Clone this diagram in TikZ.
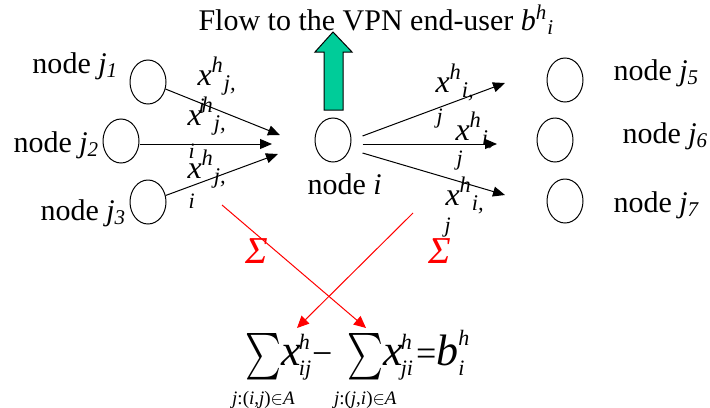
\documentclass[tikz,border=0pt]{standalone}
\usepackage{fontspec}
\setmainfont{Liberation Serif}
\usepackage{mathtools}
\usepackage{graphicx}
\usetikzlibrary{shapes.geometric,arrows.meta}
\definecolor{flowgreen}{RGB}{0,204,153}
\newcommand{\supit}[1]{\textsuperscript{\itshape #1}}
\newcommand{\subit}[1]{\textsubscript{\itshape #1}}
\newcommand{\tv}[1]{\mbox{\itshape #1}}
\newcommand{\smit}[1]{\mbox{\fontsize{11}{12}\selectfont\itshape #1}}
\newcommand{\narrowsum}[1]{\mathop{\raisebox{-1.5pt}{\scalebox{0.82}[1.12]{$\textstyle\sum$}}}\limits_{\mathclap{\mbox{\fontsize{9.5}{10}\selectfont #1}}}\mkern-3mu}
\newcommand{\eqsign}[1]{\mbox{\fontsize{18}{18}\selectfont #1}}

\begin{document}
\begin{tikzpicture}[x=0.5pt, y=-0.5pt, line width=0.5pt,
  every node/.style={font=\fontsize{15}{17}\selectfont, inner sep=0pt},
  vertex/.style={draw, ellipse, minimum width=18pt, minimum height=22pt},
  lbl/.style={anchor=base west},
  flowlbl/.style={anchor=base west, font=\fontsize{16}{18}\selectfont},
  wrap/.style={anchor=base west, font=\fontsize{11}{13}\selectfont\itshape},
  arr/.style={-{Triangle[length=6pt,width=5pt]}},
  sumarr/.style={red, -{Triangle[length=6pt,width=5.5pt]}}]
\useasboundingbox (0,0) rectangle (710,407);

% demand at node i leaves the network
\node[lbl] (title) at (198,30) {Flow to the VPN end-user \textit{b}\supit{h}\subit{i}};
\draw[fill=flowgreen] (324,110) -- (324,52) -- (315,52) -- (333,32) -- (352,52) -- (343,52) -- (343,110) -- cycle;

% the node and its neighbours
\node[vertex] (i) at (333,140) {};
\node[vertex] (j1) at (148,82) {};
\node[vertex] (j2) at (121,141) {};
\node[vertex] (j3) at (148,202) {};
\node[vertex] (j5) at (565,80) {};
\node[vertex] (j6) at (555,140) {};
\node[vertex] (j7) at (565,201) {};
\node[lbl] (li) at (307,194) {node \textit{i}};
\node[lbl] (l1) at (32,73) {node \textit{j}\subit{1}};
\node[lbl] (l2) at (13,152) {node \textit{j}\subit{2}};
\node[lbl] (l3) at (40,220) {node \textit{j}\subit{3}};
\node[lbl] (l5) at (613,80) {node \textit{j}\subit{5}};
\node[lbl] (l6) at (622,143) {node \textit{j}\subit{6}};
\node[lbl] (l7) at (613,212) {node \textit{j}\subit{7}};

% incoming flows (labels wrap: the last index drops to the next line)
\coordinate (in1) at (280,135);
\coordinate (in2) at (272,144);
\coordinate (in3) at (278,154);
\draw[arr] (j1) -- (in1);
\draw[arr] (j2.east |- in2) -- (in2);
\draw[arr] (j3) -- (in3);
\node[flowlbl] (x1) at (197,85) {\textit{x}\supit{h}\subit{j,}};
\node[wrap] (x1b) at (198,113) {i};
\node[flowlbl] (x2) at (187,125) {\textit{x}\supit{h}\subit{j,}};
\node[wrap] (x2b) at (188,158) {i};
\node[flowlbl] (x3) at (187,178) {\textit{x}\supit{h}\subit{j,}};
\node[wrap] (x3b) at (188,208) {i};

% outgoing flows
\coordinate (out5) at (505,83);
\coordinate (out6) at (497,144);
\coordinate (out7) at (505,195);
\draw[arr] ([shift={(11,-4)}]i.east) -- (out5);
\draw[arr] ([shift={(11,4)}]i.east) -- (out6);
\draw[arr] ([shift={(11,13)}]i.east) -- (out7);
\node[flowlbl] (x5) at (435,92) {\textit{x}\supit{h}\subit{i,}};
\node[wrap] (x5b) at (436,123) {j};
\node[flowlbl] (x6) at (455,140) {\textit{x}\supit{h}\subit{i,}};
\node[wrap] (x6b) at (456,165) {j};
\node[flowlbl] (x7) at (445,205) {\textit{x}\supit{h}\subit{i,}};
\node[wrap] (x7b) at (444,232) {j};

% summing both sides into the balance equation
\coordinate (r1) at (222,205);
\coordinate (t1) at (366,328);
\coordinate (r2) at (413,213);
\coordinate (t2) at (297,328);
\draw[sumarr] (r1) -- (t1);
\draw[sumarr] (r2) -- (t2);
\node[red, font=\fontsize{19}{19}\selectfont\itshape] (sig1) at (257,251) {Σ};
\node[red, font=\fontsize{19}{19}\selectfont\itshape] (sig2) at (440,251) {Σ};
\node[anchor=base west, font=\fontsize{22}{24}\selectfont] (eq) at (245,365)
  {$\narrowsum{\textit{j}:(\textit{i},\textit{j})$\in$\textit{A}}\tv{x}\kern-1pt^{\smit{h}}_{\smit{ij}}\eqsign{−}\hspace{4pt}%
   \narrowsum{\textit{j}:(\textit{j},\textit{i})$\in$\textit{A}}\tv{x}\kern-1pt^{\smit{h}}_{\smit{ji}}\eqsign{\hspace{1pt}=}\tv{b}^{\smit{h}}_{\smit{i}}$};

\end{tikzpicture}
\end{document}
